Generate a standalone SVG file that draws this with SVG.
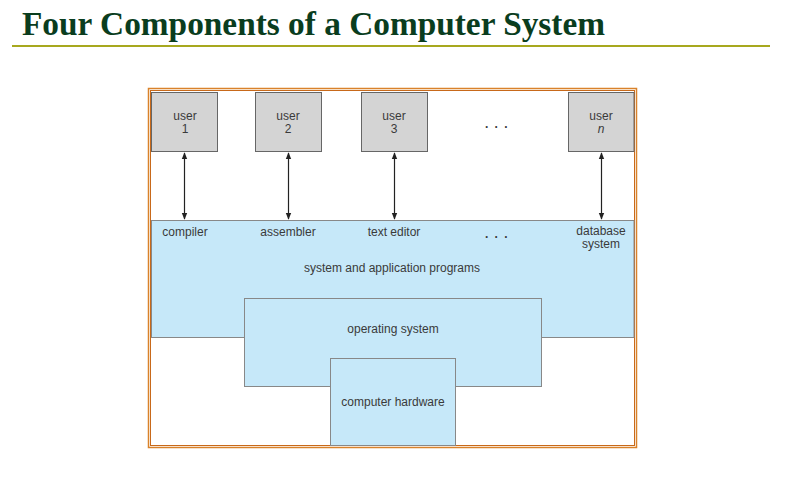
<svg xmlns="http://www.w3.org/2000/svg" width="793" height="482" viewBox="0 0 793 482">
<defs>
<marker id="ah" viewBox="0 0 10 10" refX="9" refY="5" markerWidth="7" markerHeight="7" orient="auto-start-reverse" markerUnits="userSpaceOnUse">
<path d="M0,1 L10,5 L0,9 z" fill="#222"/>
</marker>
<style>
.t{font-family:"Liberation Sans",Arial,sans-serif;font-size:12px;fill:#3a3a3a;text-anchor:middle}
.user{fill:#d4d4d4;stroke:#666;stroke-width:1}
.blue{fill:#c6e8f9;stroke:#888;stroke-width:1}
.conn{stroke:#222;stroke-width:1.2;fill:none;marker-start:url(#ah);marker-end:url(#ah)}
</style>
</defs>
<rect width="793" height="482" fill="#fff"/>
<text x="22" y="35" font-family="'Liberation Serif','Times New Roman',serif" font-weight="bold" font-size="34" fill="#0a3d1e" textLength="583" lengthAdjust="spacingAndGlyphs">Four Components of a Computer System</text>
<line x1="12" y1="46" x2="770" y2="46" stroke="#a7a81e" stroke-width="2"/>
<g id="frame">
<rect x="148.5" y="88.5" width="488" height="359" fill="#fff" stroke="#d9822b" stroke-width="1.5"/>
<rect x="150.5" y="90.5" width="484" height="355" fill="none" stroke="#c8691a" stroke-width="1"/>
</g>
<g id="apps">
<rect class="blue" x="151.5" y="220.5" width="482.5" height="117"/>
<text class="t" x="185" y="236">compiler</text>
<text class="t" x="288" y="236">assembler</text>
<text class="t" x="394" y="236">text editor</text>
<text class="t" x="497" y="238" letter-spacing="1.5" font-weight="bold">. . .</text>
<text class="t" x="601" y="235">database</text>
<text class="t" x="601" y="248">system</text>
<text class="t" x="392" y="272">system and application programs</text>
</g>
<g id="os">
<rect class="blue" x="244.5" y="298.5" width="297" height="88"/>
<text class="t" x="393" y="333">operating system</text>
</g>
<g id="hw">
<rect class="blue" x="330.5" y="358.5" width="125" height="87"/>
<text class="t" x="393" y="406">computer hardware</text>
</g>
<g id="user1"><rect class="user" x="151.5" y="92.5" width="66" height="59"/><text class="t" x="185" y="120">user</text><text class="t" x="185" y="133">1</text></g>
<g id="user2"><rect class="user" x="255.5" y="92.5" width="66" height="59"/><text class="t" x="288" y="120">user</text><text class="t" x="288" y="133">2</text></g>
<g id="user3"><rect class="user" x="361.5" y="92.5" width="66" height="59"/><text class="t" x="394" y="120">user</text><text class="t" x="394" y="133">3</text></g>
<g id="usern"><rect class="user" x="568.5" y="92.5" width="65.5" height="59"/><text class="t" x="601" y="120">user</text><text class="t" x="601" y="133" font-style="italic">n</text></g>
<text class="t" x="497" y="128" letter-spacing="1.5" font-weight="bold">. . .</text>
<g id="connectors">
<line class="conn" x1="184.5" y1="153" x2="184.5" y2="219"/>
<line class="conn" x1="288.5" y1="153" x2="288.5" y2="219"/>
<line class="conn" x1="394.5" y1="153" x2="394.5" y2="219"/>
<line class="conn" x1="601.5" y1="153" x2="601.5" y2="219"/>
</g>
</svg>
